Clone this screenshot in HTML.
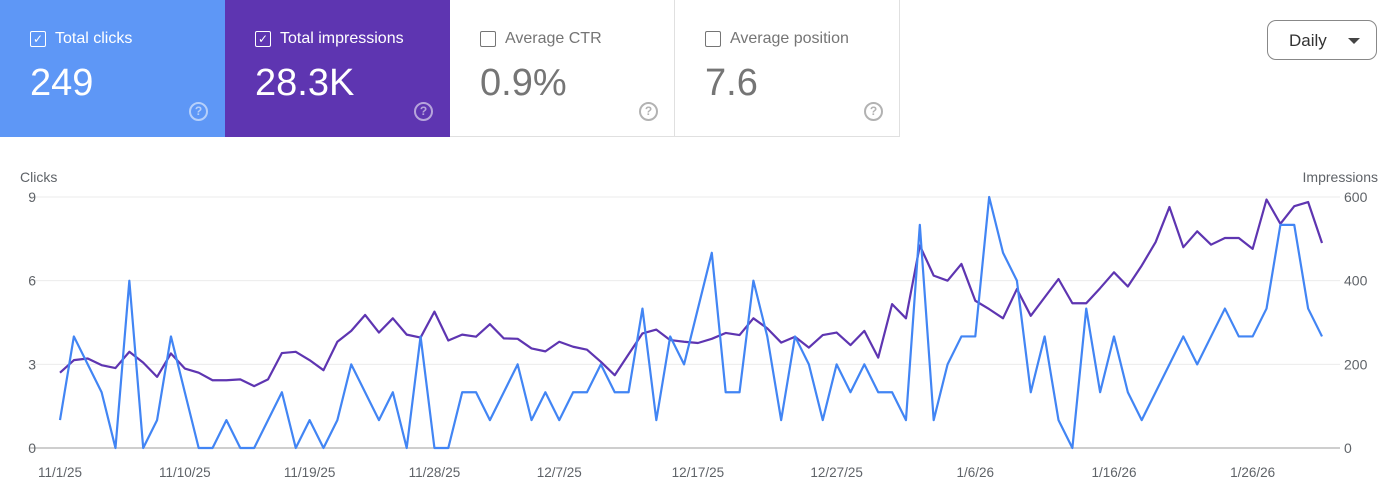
<!DOCTYPE html>
<html><head><meta charset="utf-8"><style>
body{margin:0;width:1400px;height:500px;background:#fff;font-family:"Liberation Sans",Arial,sans-serif;position:relative;overflow:hidden}
.card{position:absolute;top:0;width:225px;height:137px;box-sizing:border-box}
.lbl{position:absolute;left:30px;top:30px;font-size:16px;display:flex;align-items:center}
.cb{width:14px;height:14px;border:1.5px solid currentColor;border-radius:2px;margin-right:9px;display:inline-flex;align-items:center;justify-content:center;font-size:12px;line-height:1}
.val{position:absolute;left:30px;top:62px;font-size:38px}
.help{position:absolute;left:189px;top:102px;width:15px;height:15px;border:2px solid currentColor;border-radius:50%;font-size:12px;font-weight:bold;text-align:center;line-height:15px;opacity:.55}
</style></head><body>
<div class="card" style="left:0;background:#5e97f6;color:#fff">
 <div class="lbl"><span class="cb">✓</span>Total clicks</div>
 <div class="val">249</div><div class="help">?</div></div>
<div class="card" style="left:225px;background:#5e35b1;color:#fff">
 <div class="lbl"><span class="cb">✓</span>Total impressions</div>
 <div class="val">28.3K</div><div class="help">?</div></div>
<div class="card" style="left:450px;color:#757575;border-right:1px solid #e0e0e0;border-bottom:1px solid #e0e0e0">
 <div class="lbl"><span class="cb"></span>Average CTR</div>
 <div class="val">0.9%</div><div class="help">?</div></div>
<div class="card" style="left:675px;color:#757575;border-right:1px solid #e0e0e0;border-bottom:1px solid #e0e0e0">
 <div class="lbl"><span class="cb"></span>Average position</div>
 <div class="val">7.6</div><div class="help">?</div></div>
<div style="position:absolute;left:1267px;top:20px;width:108px;height:38px;border:1px solid #888;border-radius:9px;font-size:17px;color:#333">
 <span style="position:absolute;left:21px;top:10px">Daily</span>
 <span style="position:absolute;left:80px;top:17px;width:0;height:0;border-left:6px solid transparent;border-right:6px solid transparent;border-top:6px solid #444"></span></div>
<svg id="chart" width="1400" height="500" style="position:absolute;left:0;top:0;pointer-events:none" font-family="Liberation Sans, Arial, sans-serif"></svg>
<script>
const clicks=[1,4,3,2,0,6,0,1,4,2,0,0,1,0,0,1,2,0,1,0,1,3,2,1,2,0,4,0,0,2,2,1,2,3,1,2,1,2,2,3,2,2,5,1,4,3,5,7,2,2,6,4,1,4,3,1,3,2,3,2,2,1,8,1,3,4,4,9,7,6,2,4,1,0,5,2,4,2,1,2,3,4,3,4,5,4,4,5,8,8,5,4];
const impressions=[180,210,214,198,191,230,204,170,226,190,180,162,162,164,148,164,227,230,210,186,254,280,318,276,310,271,264,326,257,271,266,296,262,261,238,231,254,242,235,206,174,224,274,283,258,254,251,261,275,270,310,286,252,266,240,270,276,246,280,216,344,310,484,412,400,440,352,332,310,380,316,360,404,346,346,382,420,386,436,492,576,480,518,486,502,502,476,594,536,578,588,490];
const xLabels=["11/1/25","11/10/25","11/19/25","11/28/25","12/7/25","12/17/25","12/27/25","1/6/26","1/16/26","1/26/26"];
const xLabelIdx=[0,9,18,27,36,46,56,66,76,86];
const leftTicks=[0,3,6,9];
const rightTicks=[0,200,400,600];
const svg=document.getElementById('chart');const NS='http://www.w3.org/2000/svg';
const X0=60,X1=1322,Y0=448,Y1=197;
const x=i=>X0+(X1-X0)*i/(clicks.length-1);
const yL=v=>Y0-(Y0-Y1)*v/9;
const yR=v=>Y0-(Y0-Y1)*v/600;
function mk(t,a,txt){const e=document.createElementNS(NS,t);for(const k in a)e.setAttribute(k,a[k]);if(txt!==undefined)e.textContent=txt;svg.appendChild(e);return e;}
leftTicks.forEach((t,i)=>{
 const g=mk('line',{x1:30,x2:1340,y1:yL(t),y2:yL(t),stroke:t===0?'#9e9e9e':'#ebebeb','stroke-width':1});
 
 
 const l=mk('text',{x:36,y:yL(t)+5,'text-anchor':'end','font-size':14,fill:'#5f6368'},t);
 
 
});
rightTicks.forEach(t=>{
 const l=mk('text',{x:1344,y:yR(t)+5,'font-size':14,fill:'#5f6368'},t);
 
 
});
let a=mk('text',{x:20,y:182,'font-size':14,fill:'#5f6368'},'Clicks');


a=mk('text',{x:1378,y:182,'font-size':14,fill:'#5f6368','text-anchor':'end'},'Impressions');


xLabels.forEach((s,k)=>{
 const l=mk('text',{x:x(xLabelIdx[k]),y:477,'text-anchor':'middle','font-size':13.5,fill:'#5f6368'},s);
 
 
});
const pi=mk('polyline',{points:impressions.map((v,i)=>x(i)+','+yR(v)).join(' '),fill:'none',stroke:'#5e35b1','stroke-width':2.2,'stroke-linejoin':'round'});


const pc=mk('polyline',{points:clicks.map((v,i)=>x(i)+','+yL(v)).join(' '),fill:'none',stroke:'#4285f4','stroke-width':2.2,'stroke-linejoin':'round'});


</script>
</body></html>
